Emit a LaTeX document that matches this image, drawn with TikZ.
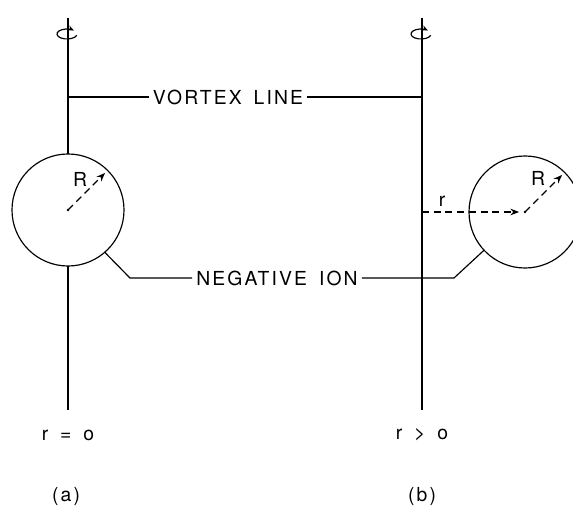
\documentclass[tikz,border=0pt]{standalone}
\usepackage{fontspec}
\newfontfamily\lettering[LetterSpace=11,WordSpace=1.6]{TeX Gyre Heros}
\usetikzlibrary{arrows.meta,positioning,calc}

\begin{document}
\begin{tikzpicture}[>=Stealth,x=0.03cm,y=-0.03cm,line width=1pt,
  txt/.style={font=\lettering\fontsize{16.5}{18}\selectfont,inner sep=3pt},
  ion/.style={circle,draw,minimum size=3.36cm,inner sep=0pt,outer sep=0pt},
  rad/.style={dashed,dash pattern=on 6pt off 4pt,->,shorten >=3pt}]
\useasboundingbox (0,0) rectangle (573,514);
% vortex lines
\coordinate (topA) at (68,18);
\coordinate (botA) at (68,410);
\coordinate (topB) at (422,18);
\coordinate (botB) at (422,410);
\coordinate (spinA) at (67,34);
\coordinate (spinB) at (421,34);
% ions
\node[ion] (ionA) at (68,210) {};
\node[ion] (ionB) at (525,212) {};
\draw[line width=1.2pt] (topA) -- (ionA.north);
\draw[line width=1.2pt] (ionA.south) -- (botA);
\draw[line width=1.2pt] (topB) -- (botB);
\foreach \s in {spinA,spinB}
  \draw[-{Stealth[length=5pt,width=4.5pt]}] ([shift={(15:10 and 5)}]\s) arc[start angle=15,end angle=312,x radius=10,y radius=5];
% labels
\node[txt] (vortex) at (228,97) {VORTEX LINE};
\draw (vortex.west) -- (vortex.west -| topA);
\draw (vortex.east) -- (vortex.east -| topB);
\node[txt] (negion) at (277,278) {NEGATIVE ION};
\coordinate (kneeA) at (130,278);
\coordinate (kneeB) at (454,278);
\draw (negion.west) -- (kneeA) -- (ionA.-49);
\draw (negion.east) -- (kneeB) -- (ionB.-137);
% radii
\fill (ionA.center) circle (1.1pt);
\fill (ionB.center) circle (1.1pt);
\draw[rad] (ionA.center) -- (ionA.45);
\draw[rad] (ionB.center) -- (ionB.45);
\draw[rad,shorten >=5pt] (ionB.center -| topB) -- (ionB.center);
\node[txt] (RA) at (80,179) {R};
\node[txt] (RB) at (538,178) {R};
\node[txt] (rB) at (442,201) {r};
% captions
\node[txt] (condA) at (68,435) {r = o};
\node[txt] (condB) at (422,435) {r > o};
\node[txt] (capA) at (66,496) {(a)};
\node[txt] (capB) at (422,496) {(b)};
\end{tikzpicture}
\end{document}
